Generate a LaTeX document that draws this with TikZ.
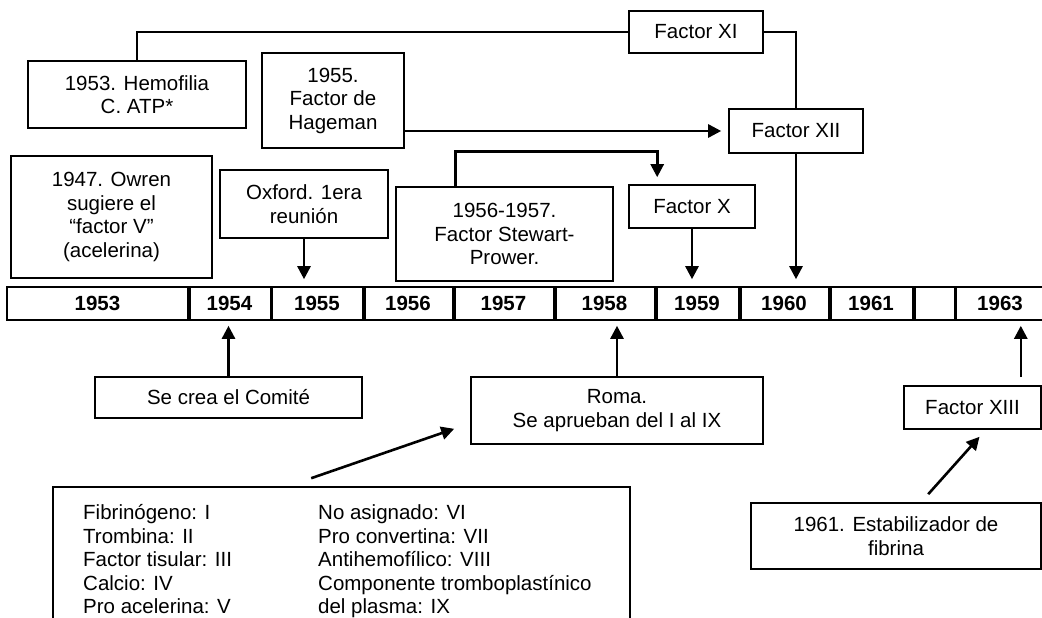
\documentclass[tikz,border=0pt]{standalone}
\usepackage{fontspec}
\setmainfont{Liberation Sans}
\usetikzlibrary{arrows.meta,calc}
\begin{document}
\begin{tikzpicture}[x=1pt,y=-1pt,
  every node/.style={font=\fontsize{20.5}{23.5}\selectfont},
  box/.style={draw, line width=1.6pt, align=center, inner sep=0pt},
  conn/.style={line width=2.6pt},
  arr/.style={conn, -{Triangle[length=13pt,width=13pt]}},
  cell/.style={draw, line width=1.6pt, minimum height=33pt, inner sep=0pt,
    font=\fontsize{20.5}{23.5}\selectfont\bfseries},
  divider/.style={line width=4.5pt},
  thindivider/.style={line width=3pt},
]
\clip (0,0) rectangle (1042,618);
\fill[white] (0,0) rectangle (1042,618);

% ---- timeline ----
\foreach \l/\r/\nm/\yr in {7/188/1953/1953, 188/271/1954/1954, 271/363/1955/1955,
    363/453/1956/1956, 453/554/1957/1957, 554/655/1958/1958, 655/739/1959/1959,
    739/829/1960/1960, 829/913/1961/1961, 913/955/1962/, 955/1045/1963/1963}
  \node[cell, minimum width={(\r-\l)*1pt}] (c\nm) at ({(\l+\r)/2},303.5) {\yr};
\foreach \c in {1953,1955,1956,1957,1958,1959,1960,1961}
  \draw[divider] (c\c.north east) -- (c\c.south east);
\foreach \c in {1954,1962}
  \draw[thindivider] (c\c.north east) -- (c\c.south east);

% ---- upper boxes ----
\node[box, minimum width=218pt, minimum height=67pt] (hemo) at (137,94.5) {1953. Hemofilia\\C. ATP*};
\node[box, minimum width=142pt, minimum height=95pt] (hage) at (333,100.5) {1955.\\Factor de\\Hageman};
\node[box, minimum width=201pt, minimum height=122pt] (owren) at (111.5,217) {1947. Owren\\sugiere el\\“factor V”\\(acelerina)};
\node[box, minimum width=168pt, minimum height=68pt] (oxf) at (304,204) {Oxford. 1era\\reunión};
\node[box, minimum width=217pt, minimum height=94pt] (stew) at (504.5,234) {1956-1957.\\Factor Stewart-\\Prower.};
\node[box, minimum width=134pt, minimum height=42pt] (fxi) at (696,32) {Factor XI};
\node[box, minimum width=134pt, minimum height=44pt] (fxii) at (796,131) {Factor XII};
\node[box, minimum width=126pt, minimum height=43pt] (fx) at (692,206.5) {Factor X};

% ---- lower boxes ----
\node[box, minimum width=267pt, minimum height=41pt] (crea) at (228.5,397.5) {Se crea el Comité};
\node[box, minimum width=292pt, minimum height=67pt] (roma) at (617,410.5) {Roma.\\Se aprueban del I al IX};
\node[box, minimum width=137pt, minimum height=43pt] (fxiii) at (972.5,407.5) {Factor XIII};
\node[box, minimum width=290pt, minimum height=66pt] (est) at (896,536) {1961. Estabilizador de\\fibrina};
\node[box, minimum width=577pt, minimum height=160pt] (list) at (341.5,567) {};
\node[anchor=north west, align=left, inner sep=0pt] (lcol) at (83,504.5)
  {Fibrinógeno: I\\Trombina: II\\Factor tisular: III\\Calcio: IV\\Pro acelerina: V};
\node[anchor=north west, align=left, inner sep=0pt] (rcol) at (318,504.5)
  {No asignado: VI\\Pro convertina: VII\\Antihemofílico: VIII\\Componente tromboplastínico\\del plasma: IX};

% ---- connectors ----
\draw[conn] (hemo.north) |- (fxi.west);
\draw[conn] (fxi.east) -| (fxii.north);
\draw[arr, shorten >=7pt] (fxii.south) -- (fxii.south |- c1960.north);
\draw[arr, shorten >=7pt] (hage.east |- fxii.west) -- (fxii.west);
\coordinate (sx) at ($(stew.north west)+(60,0)$);
\coordinate (fxin) at ($(fx.north west)+(29,0)$);
\draw[arr, shorten >=7pt] (sx) -- ++(0,-35) -| (fxin);
\draw[arr, shorten >=7pt] (fx.south) -- (fx.south |- c1959.north);
\draw[arr, shorten >=7pt] (oxf.south) -- (oxf.south |- c1955.north);

\draw[arr, shorten >=5pt] (crea.north) -- (crea.north |- c1954.south);
\draw[arr, shorten >=5pt] (roma.north) -- (roma.north |- c1958.south);
\coordinate (xiiiup) at ($(fxiii.north east)+(-21,0)$);
\draw[arr, shorten <=8pt, shorten >=5pt] (xiiiup) -- (xiiiup |- c1963.south);
\draw[arr] ($(list.north west)+(259,-8)$) -- ($(roma.south west)+(-16,-16)$);
\draw[arr] ($(est.north west)+(178,-8)$) -- ($(fxiii.south)+(7,7)$);
\end{tikzpicture}
\end{document}
